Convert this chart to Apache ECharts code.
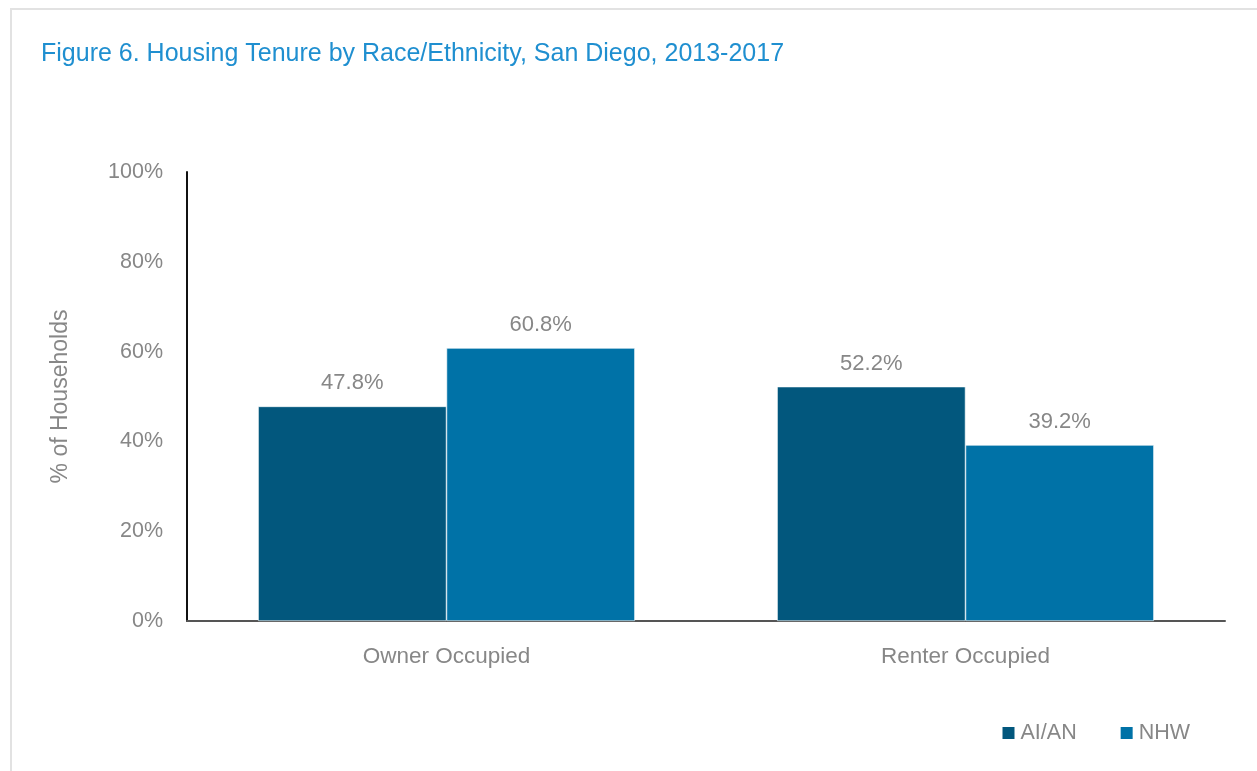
<!DOCTYPE html>
<html>
<head>
<meta charset="utf-8">
<script src="https://cdn.jsdelivr.net/npm/echarts@6/dist/echarts.min.js"></script>
<style>
  html, body { margin: 0; padding: 0; background: #fff; }
  #frame { position: absolute; left: 10px; top: 8px; width: 1247px; height: 763px;
           border-left: 2px solid #e2e2e2; border-top: 2px solid #e2e2e2; box-sizing: border-box; }
  #chart { position: absolute; left: 0; top: 0; width: 1257px; height: 771px; }
</style>
</head>
<body>
<div id="frame"></div>
<div id="chart"></div>
<script>
const titleText = 'Figure 6. Housing Tenure by Race/Ethnicity, San Diego, 2013-2017';
const categories = ['Owner Occupied', 'Renter Occupied'];
const seriesNames = ['AI/AN', 'NHW'];
const aianValues = [47.8, 52.2];
const nhwValues = [60.8, 39.2];
const yTicks = [0, 20, 40, 60, 80, 100];

const FONT = '"Liberation Sans Narrow", "Arial Narrow", "Liberation Sans", Arial, sans-serif';
const GRAY = '#878787';

const chart = echarts.init(document.getElementById('chart'), null, { renderer: 'canvas' });
const labelCfg = {
  show: true, position: 'top', distance: 12,
  formatter: p => p.value.toFixed(1) + '%',
  color: GRAY, fontSize: 22, fontFamily: FONT
};
chart.setOption({
  backgroundColor: 'transparent',
  animation: false,
  title: {
    text: titleText, left: 36, top: 37,
    textStyle: { color: '#1f8fd0', fontSize: 25, fontWeight: 'normal', fontFamily: FONT }
  },
  legend: {
    data: seriesNames, right: 62, top: 717, itemWidth: 14, itemHeight: 14, itemGap: 42,
    icon: 'rect',
    textStyle: { color: GRAY, fontSize: 21.5, fontFamily: FONT, padding: [0, 0, 0, 0] }
  },
  grid: { left: 187, right: 32, top: 172, bottom: 150, containLabel: false },
  xAxis: {
    type: 'category', data: categories,
    axisLine: { lineStyle: { color: '#555', width: 2 } },
    axisTick: { show: false },
    axisLabel: { color: GRAY, fontSize: 22.5, fontFamily: FONT, margin: 24 }
  },
  yAxis: {
    type: 'value', min: 0, max: 100, interval: 20,
    name: '% of Households', nameLocation: 'middle', nameGap: 115, nameRotate: 90,
    nameTextStyle: { color: GRAY, fontSize: 23, fontFamily: FONT },
    axisLine: { show: true, lineStyle: { color: '#111', width: 2 } },
    axisTick: { show: false },
    splitLine: { show: false },
    axisLabel: {
      color: GRAY, fontSize: 21.5, fontFamily: FONT, margin: 24,
      formatter: v => yTicks.includes(v) ? v + '%' : ''
    }
  },
  series: [
    { name: seriesNames[0], type: 'bar', data: aianValues, barGap: '0%', barCategoryGap: '27.4%',
      itemStyle: { color: '#02577d', borderColor: '#ffffff', borderWidth: 0.6 }, label: labelCfg },
    { name: seriesNames[1], type: 'bar', data: nhwValues, barGap: '0%', barCategoryGap: '27.4%',
      itemStyle: { color: '#0072a7', borderColor: '#ffffff', borderWidth: 0.6 }, label: labelCfg }
  ]
});
</script>
</body>
</html>
